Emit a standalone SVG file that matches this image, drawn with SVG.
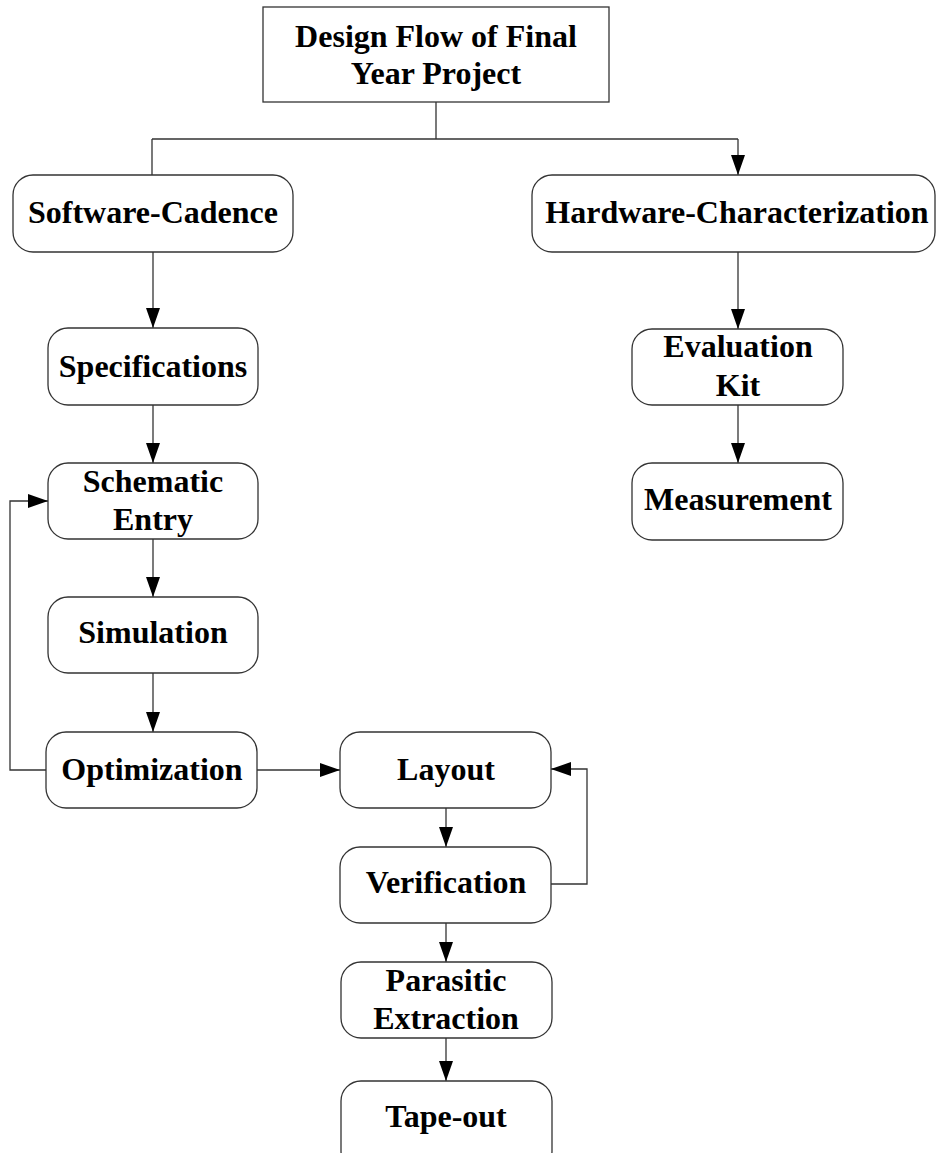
<svg xmlns="http://www.w3.org/2000/svg" width="936" height="1153" viewBox="0 0 936 1153">
<style>
.box{fill:#fff;stroke:#333;stroke-width:1.3}
.t{font-family:"Liberation Serif","Times New Roman",serif;font-weight:bold;font-size:32px;fill:#000;text-anchor:middle}
.c{fill:none;stroke:#333;stroke-width:1.3}
</style>
<defs>
<marker id="ah" markerUnits="userSpaceOnUse" markerWidth="20" markerHeight="14" refX="20" refY="7" orient="auto">
<path d="M0,0 L20,7 L0,14 z" fill="#000"/>
</marker>
</defs>
<rect width="936" height="1153" fill="#fff"/>
<g id="connectors">
<path class="c" d="M436,102 V139 M152,139 H738 M152,139 V175"/>
<path class="c" d="M738,139 V175" marker-end="url(#ah)"/>
<path class="c" d="M153,252 V328" marker-end="url(#ah)"/>
<path class="c" d="M153,405 V463" marker-end="url(#ah)"/>
<path class="c" d="M153,539 V597" marker-end="url(#ah)"/>
<path class="c" d="M153,673 V732" marker-end="url(#ah)"/>
<path class="c" d="M46,770 H10 V501 H48" marker-end="url(#ah)"/>
<path class="c" d="M257,770 H340" marker-end="url(#ah)"/>
<path class="c" d="M446,808 V847" marker-end="url(#ah)"/>
<path class="c" d="M551,884 H587 V769 H551" marker-end="url(#ah)"/>
<path class="c" d="M446,923 V962" marker-end="url(#ah)"/>
<path class="c" d="M446,1038 V1081" marker-end="url(#ah)"/>
<path class="c" d="M738,252 V329" marker-end="url(#ah)"/>
<path class="c" d="M738,405 V463" marker-end="url(#ah)"/>
</g>
<g id="n-title"><rect class="box" x="263" y="7" width="346" height="95"/><text class="t" x="436" y="47">Design Flow of Final</text><text class="t" x="436" y="84">Year Project</text></g>
<g id="n-software"><rect class="box" x="13" y="175" width="280" height="77" rx="20"/><text class="t" x="153" y="223">Software-Cadence</text></g>
<g id="n-hardware"><rect class="box" x="532" y="175" width="403" height="77" rx="20"/><text class="t" x="737" y="223">Hardware-Characterization</text></g>
<g id="n-spec"><rect class="box" x="48" y="328" width="210" height="77" rx="20"/><text class="t" x="153" y="377">Specifications</text></g>
<g id="n-schematic"><rect class="box" x="48" y="463" width="210" height="76" rx="20"/><text class="t" x="153" y="492">Schematic</text><text class="t" x="153" y="530">Entry</text></g>
<g id="n-simulation"><rect class="box" x="48" y="597" width="210" height="76" rx="20"/><text class="t" x="153" y="643">Simulation</text></g>
<g id="n-optimization"><rect class="box" x="46" y="732" width="211" height="76" rx="20"/><text class="t" x="152" y="780">Optimization</text></g>
<g id="n-layout"><rect class="box" x="340" y="732" width="211" height="76" rx="20"/><text class="t" x="446" y="780">Layout</text></g>
<g id="n-verification"><rect class="box" x="340" y="847" width="211" height="76" rx="20"/><text class="t" x="446" y="893">Verification</text></g>
<g id="n-parasitic"><rect class="box" x="341" y="962" width="211" height="76" rx="20"/><text class="t" x="446" y="991">Parasitic</text><text class="t" x="446" y="1029">Extraction</text></g>
<g id="n-tapeout"><rect class="box" x="341" y="1081" width="211" height="90" rx="20"/><text class="t" x="446" y="1127">Tape-out</text></g>
<g id="n-evalkit"><rect class="box" x="632" y="329" width="211" height="76" rx="20"/><text class="t" x="738" y="357">Evaluation</text><text class="t" x="738" y="396">Kit</text></g>
<g id="n-measurement"><rect class="box" x="632" y="463" width="211" height="77" rx="20"/><text class="t" x="738" y="510">Measurement</text></g>
</svg>
